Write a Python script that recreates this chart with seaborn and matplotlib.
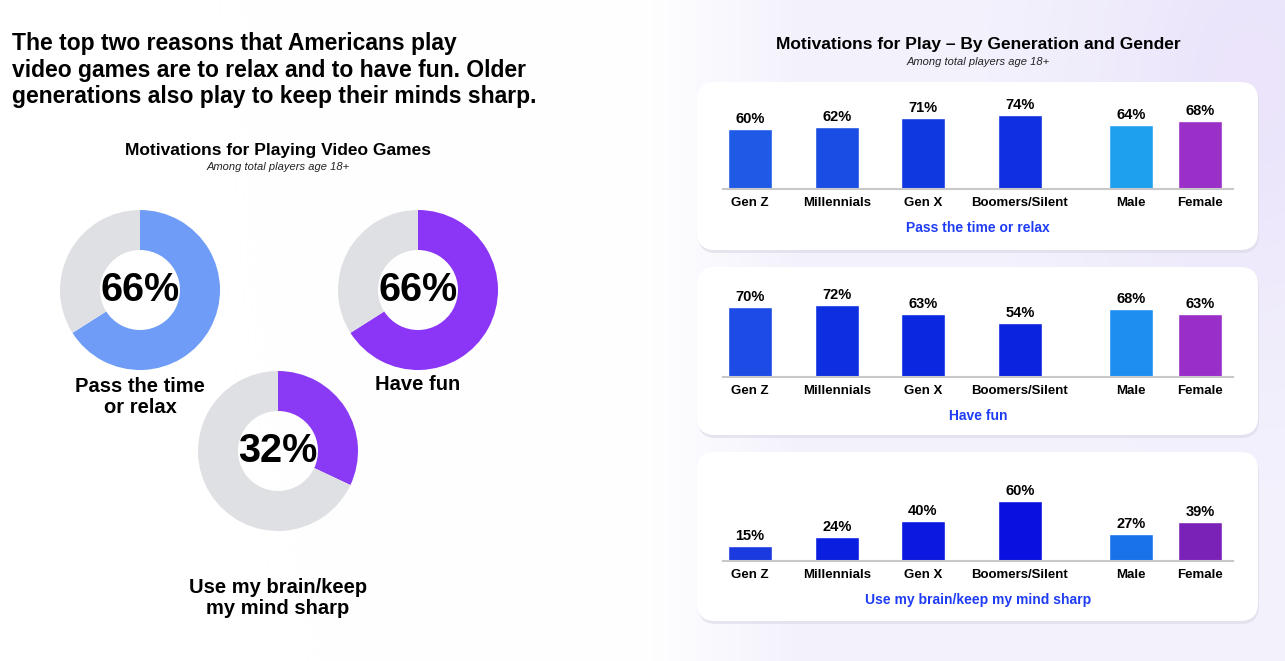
import numpy as np
import pandas as pd
import matplotlib.pyplot as plt
import seaborn as sns
from matplotlib.patches import FancyBboxPatch

# ---- data ----
donut_labels = ["Pass the time\nor relax", "Have fun", "Use my brain/keep\nmy mind sharp"]
donut_values = [66, 66, 32]

groups = ["Gen Z", "Millennials", "Gen X", "Boomers/Silent", "Male", "Female"]
motivations = ["Pass the time or relax", "Have fun", "Use my brain/keep my mind sharp"]
relax_values = [60, 62, 71, 74, 64, 68]
fun_values = [70, 72, 63, 54, 68, 63]
brain_values = [15, 24, 40, 60, 27, 39]

# ---- layout / style (pixel units on a 1285x661 canvas) ----
W, H = 1285, 661
donut_centers = [(140, 290), (418, 290), (278, 451)]
donut_radius = 80
donut_label_y = [397, 385, 598]
donut_colors = ["#6f9cf6", "#8b36f6", "#8a3af4"]
ring_gray = "#dfe0e3"

bar_x = [750, 837, 923, 1020, 1131, 1200]
panel_boxes = [(697, 82, 168), (697, 267, 168), (697, 452, 169)]
baselines = [189, 377, 561]
panel_palettes = [
    ["#1f5ae6", "#1a4de3", "#1038e0", "#0f2fe0", "#1ea0ee", "#9a30c8"],
    ["#1c4be6", "#0e2fe0", "#0b28e0", "#0b22df", "#1e8ff0", "#9a2ec8"],
    ["#1a3ae0", "#0a1ee0", "#0a18e0", "#0a10e0", "#1a72ea", "#7a22b8"],
]
blue_text = "#1f3cf5"

sns.set_theme(style="white")
plt.rcParams["font.family"] = ["Liberation Sans", "DejaVu Sans"]
plt.rcParams["text.color"] = "black"
plt.rcParams["xtick.color"] = "black"

fig = plt.figure(figsize=(W / 100, H / 100), dpi=100)


def frac(x, y, w, h):
    return [x / W, 1 - (y + h) / H, w / W, h / H]


# background canvas in pixel coords
bg = fig.add_axes([0, 0, 1, 1])
bg.axis("off")
xx = np.arange(W)[None, :]
yy = np.arange(H)[:, None]
t = np.clip((xx - 640) / 160, 0, 1) * np.ones((H, 1))
blob = np.exp(-(((xx - 1250) / 170) ** 2 + ((yy - 80) / 260) ** 2))
img = np.ones((H, W, 3))
base = np.array([0.955, 0.95, 0.99])
purple = np.array([0.90, 0.86, 0.98])
img = img * (1 - t[..., None]) + base * t[..., None]
img = img * (1 - 0.6 * blob[..., None]) + purple * 0.6 * blob[..., None]
bg.imshow(img, extent=[0, W, H, 0], aspect="auto", zorder=0)
bg.set_xlim(0, W)
bg.set_ylim(H, 0)

# white rounded panels
for (px, py, ph) in panel_boxes:
    shadow = FancyBboxPatch((px + 1, py + 3), 561, ph, boxstyle="round,pad=0,rounding_size=18",
                            fc="#d9d8e6", ec="none", alpha=0.6, zorder=1)
    bg.add_patch(shadow)
    box = FancyBboxPatch((px, py), 561, ph, boxstyle="round,pad=0,rounding_size=18",
                         fc="white", ec="none", zorder=2)
    bg.add_patch(box)

# headline text
bg.text(12, 70, "The top two reasons that Americans play\nvideo games are to relax and to have fun. Older\ngenerations also play to keep their minds sharp.",
        fontsize=16.5, fontweight="bold", va="center", ha="left", linespacing=1.2, zorder=3)
bg.text(278, 151, "Motivations for Playing Video Games", fontsize=12.5, fontweight="bold",
        ha="center", va="center", zorder=3)
bg.text(278, 167, "Among total players age 18+", fontsize=8, style="italic",
        ha="center", va="center", color="#222222", zorder=3)
bg.text(978, 45, "Motivations for Play \u2013 By Generation and Gender", fontsize=12.5, fontweight="bold",
        ha="center", va="center", zorder=3)
bg.text(978, 62, "Among total players age 18+", fontsize=8, style="italic",
        ha="center", va="center", color="#222222", zorder=3)

# donuts
for (cx, cy), val, col, lab, ly in zip(donut_centers, donut_values, donut_colors, donut_labels, donut_label_y):
    ax = fig.add_axes(frac(cx - donut_radius, cy - donut_radius, 2 * donut_radius, 2 * donut_radius))
    ax.pie([val, 100 - val], colors=[col, ring_gray], startangle=90, counterclock=False,
           radius=1, wedgeprops=dict(width=0.5, edgecolor="none"))
    ax.set_xlim(-1, 1)
    ax.set_ylim(-1, 1)
    ax.set_aspect("equal")
    ax.axis("off")
    ax.text(0, 0, f"{val}%", fontsize=28.5, fontweight="bold", ha="center", va="center", color="black")
    bg.text(cx, ly, lab, fontsize=14.5, fontweight="bold", ha="center", va="center",
            linespacing=1.15, zorder=3)

# bar panels
all_values = [relax_values, fun_values, brain_values]
for i, (vals, title) in enumerate(zip(all_values, motivations)):
    base_y = baselines[i]
    ax = fig.add_axes(frac(697, base_y - 100, 561, 100))
    df = pd.DataFrame({"pos": bar_x, "value": vals, "group": groups})
    pal = dict(zip(groups, panel_palettes[i]))
    sns.barplot(data=df, x="pos", y="value", hue="group", palette=pal, native_scale=True,
                dodge=False, width=0.645, saturation=1, legend=False, ax=ax)
    ax.set_xlim(697, 1258)
    ax.set_ylim(0, 100)
    ax.patch.set_alpha(0)
    for s in ["top", "right", "left"]:
        ax.spines[s].set_visible(False)
    ax.spines["bottom"].set_bounds(723, 1233)
    ax.spines["bottom"].set_color("#c8c8c8")
    ax.spines["bottom"].set_linewidth(1.5)
    ax.set_xticks(bar_x)
    ax.set_xticklabels(groups, fontsize=9.5, fontweight="bold")
    ax.tick_params(axis="x", length=0, pad=6)
    ax.set_yticks([])
    ax.set_xlabel("")
    ax.set_ylabel("")
    for c in ax.containers:
        ax.bar_label(c, fmt="{:.0f}%", padding=2, fontsize=10.5, fontweight="bold", color="black")
    bg.text(978, base_y + 39, title, fontsize=10, fontweight="bold", color=blue_text,
            ha="center", va="center", zorder=3)

fig.savefig("out.png", dpi=100)
